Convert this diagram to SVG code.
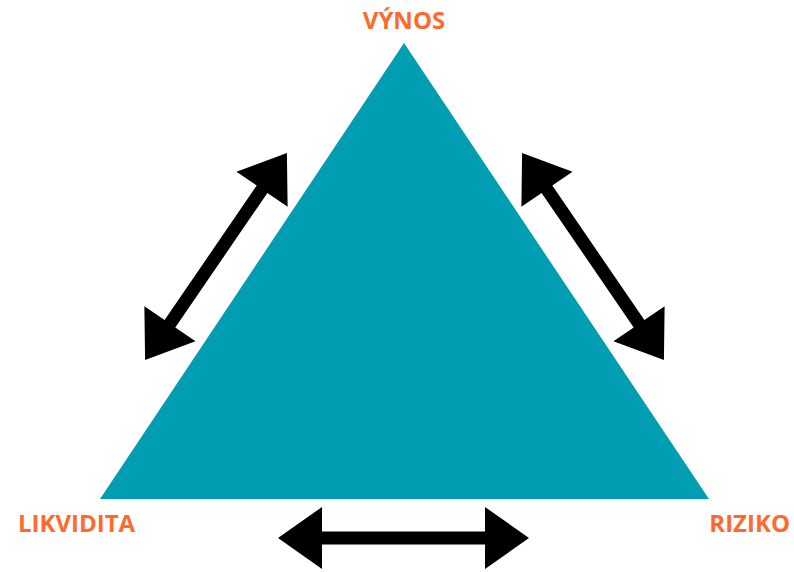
<svg xmlns="http://www.w3.org/2000/svg" xmlns:xlink="http://www.w3.org/1999/xlink" width="794" height="572" viewBox="0 0 794 572">
<style>
.lbl{font-family:"Open Sans","Liberation Sans",sans-serif;font-weight:700;font-size:24px;fill:#FF6A2B}
.arr{fill:#000}
</style>
<defs>
<path id="dbl" d="M-125.5,0 L-81.5,-31 L-81.5,-6.5 L81.5,-6.5 L81.5,-31 L125.5,0 L81.5,31 L81.5,6.5 L-81.5,6.5 L-81.5,31 Z"/>
</defs>
<rect width="794" height="572" fill="#fff"/>
<g id="triangle">
<polygon points="404,43 709,499 100,499" fill="#019DB2"/>
</g>
<g id="vynos"><text class="lbl" x="404" y="29" text-anchor="middle">VÝNOS</text></g>
<g id="likvidita"><text class="lbl" x="18" y="532">LIKVIDITA</text></g>
<g id="riziko"><text class="lbl" x="790" y="532" text-anchor="end">RIZIKO</text></g>
<g id="connectors" class="arr">
<use xlink:href="#dbl" transform="translate(403.5,538)"/>
<use xlink:href="#dbl" transform="translate(216,256.5) rotate(-55.6)"/>
<use xlink:href="#dbl" transform="translate(593,256.5) rotate(55.6)"/>
</g>
</svg>
